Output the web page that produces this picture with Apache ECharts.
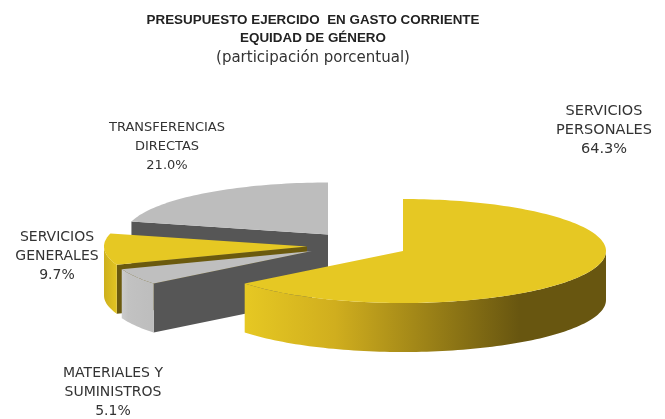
<!DOCTYPE html>
<html><head><meta charset="utf-8">
<style>html,body{margin:0;padding:0;background:#fff}#c{width:665px;height:419px}</style>
<script src="https://cdn.jsdelivr.net/npm/echarts@6/dist/echarts.min.js"></script>
</head><body><div id="c"></div>
<script>
const categories = ['SERVICIOS\nPERSONALES','MATERIALES Y\nSUMINISTROS','SERVICIOS\nGENERALES','TRANSFERENCIAS\nDIRECTAS'];
const values = [64.3, 5.1, 9.7, 21.0];
const titleLines = 'PRESUPUESTO EJERCIDO  EN GASTO CORRIENTE\nEQUIDAD DE GÉNERO';
const subtitle = '(participación porcentual)';

// layout and style of the exploded pie
const RX = 203, RY = 52, DEPTH = 49;
const drawOrder = [3, 2, 1, 0];
const centres = [[403,251],[312,251],[307,246.5],[328,234.5]];
const labelAt = [[604,130],[113,392],[57,256],[167,147]];
const labelSize = [14.5,14,14,13];
const topFill = ['#E6C823','#BFBFBF','#E6C823','#BDBDBD'];
const cutFill = ['#555','#565656','#6B5A0E','#565656'];
const wallStops = [
  [[0,'#E6C823'],[0.25,'#D0AE1E'],[0.76,'#685610'],[1,'#685610']],
  [[0,'#CCCCCC'],[0.2,'#C2C2C2'],[1,'#BDBDBD']],
  [[0,'#CDB01E'],[1,'#E3C522']],
  [[0,'#565656'],[1,'#565656']]
];

const total = values.reduce((a,b)=>a+b,0);
const startOf = i => values.slice(0,i).reduce((a,b)=>a+b,0)/total*360;
const pt = (c,deg,dy) => {
  const r = deg*Math.PI/180;
  return [c[0]+RX*Math.sin(r), c[1]-RY*Math.cos(r)+(dy||0)];
};
const arc = (c,a,b,dy) => {
  const out = [], n = Math.max(2,Math.ceil(Math.abs(b-a)/1.5));
  for (let k=0;k<=n;k++) out.push(pt(c,a+(b-a)*k/n,dy));
  return out;
};

function renderItem(params, api){
  const i = api.value(0), v = api.value(1);
  const a = startOf(i), b = a + v/total*360, c = centres[i];
  const kids = [];
  const sinA = Math.sin(a*Math.PI/180), sinB = Math.sin(b*Math.PI/180);
  const cut = deg => {
    const p = pt(c,deg);
    kids.push({type:'polygon',shape:{points:[c,p,[p[0],p[1]+DEPTH],[c[0],c[1]+DEPTH]]},style:{fill:cutFill[i]},silent:true});
  };
  if (sinA < -1e-6) cut(a);
  if (sinB > 1e-6) cut(b);
  const w0 = Math.max(a,90), w1 = Math.min(b,270);
  if (w1 > w0){
    const top = arc(c,w0,w1,0), bot = arc(c,w1,w0,DEPTH);
    const xs = top.map(p=>p[0]);
    const x0 = Math.min.apply(null,xs), x1 = Math.max.apply(null,xs);
    kids.push({type:'polygon',shape:{points:top.concat(bot)},style:{fill:{
      type:'linear',global:true,x:x0,y:0,x2:x1,y2:0,
      colorStops:wallStops[i].map(s=>({offset:s[0],color:s[1]}))
    }},silent:true});
  }
  kids.push({type:'polygon',shape:{points:[c].concat(arc(c,a,b,0))},style:{fill:topFill[i]},silent:true});
  kids.push({type:'text',silent:true,style:{
    x:labelAt[i][0],y:labelAt[i][1],
    text:categories[i]+'\n'+v.toFixed(1)+'%',
    align:'center',verticalAlign:'middle',
    font:labelSize[i]+'px "DejaVu Sans"',fill:'#333',lineHeight:19
  }});
  return {type:'group',children:kids};
}

const chart = echarts.init(document.getElementById('c'),null,{renderer:'canvas'});
chart.setOption({
  animation:false,
  backgroundColor:'#fff',
  title:{
    left:308,top:6,textAlign:'center',itemGap:2,
    text:titleLines,
    textStyle:{fontFamily:'"Liberation Sans"',fontSize:13.4,fontWeight:'bold',color:'#222',lineHeight:18},
    subtext:subtitle,
    subtextStyle:{fontFamily:'"DejaVu Sans"',fontSize:15,color:'#333',lineHeight:18}
  },
  xAxis:{show:false},yAxis:{show:false},
  series:[{
    type:'custom',coordinateSystem:'none',
    renderItem,
    data:drawOrder.map(i=>[i,values[i]])
  }]
});
</script></body></html>
